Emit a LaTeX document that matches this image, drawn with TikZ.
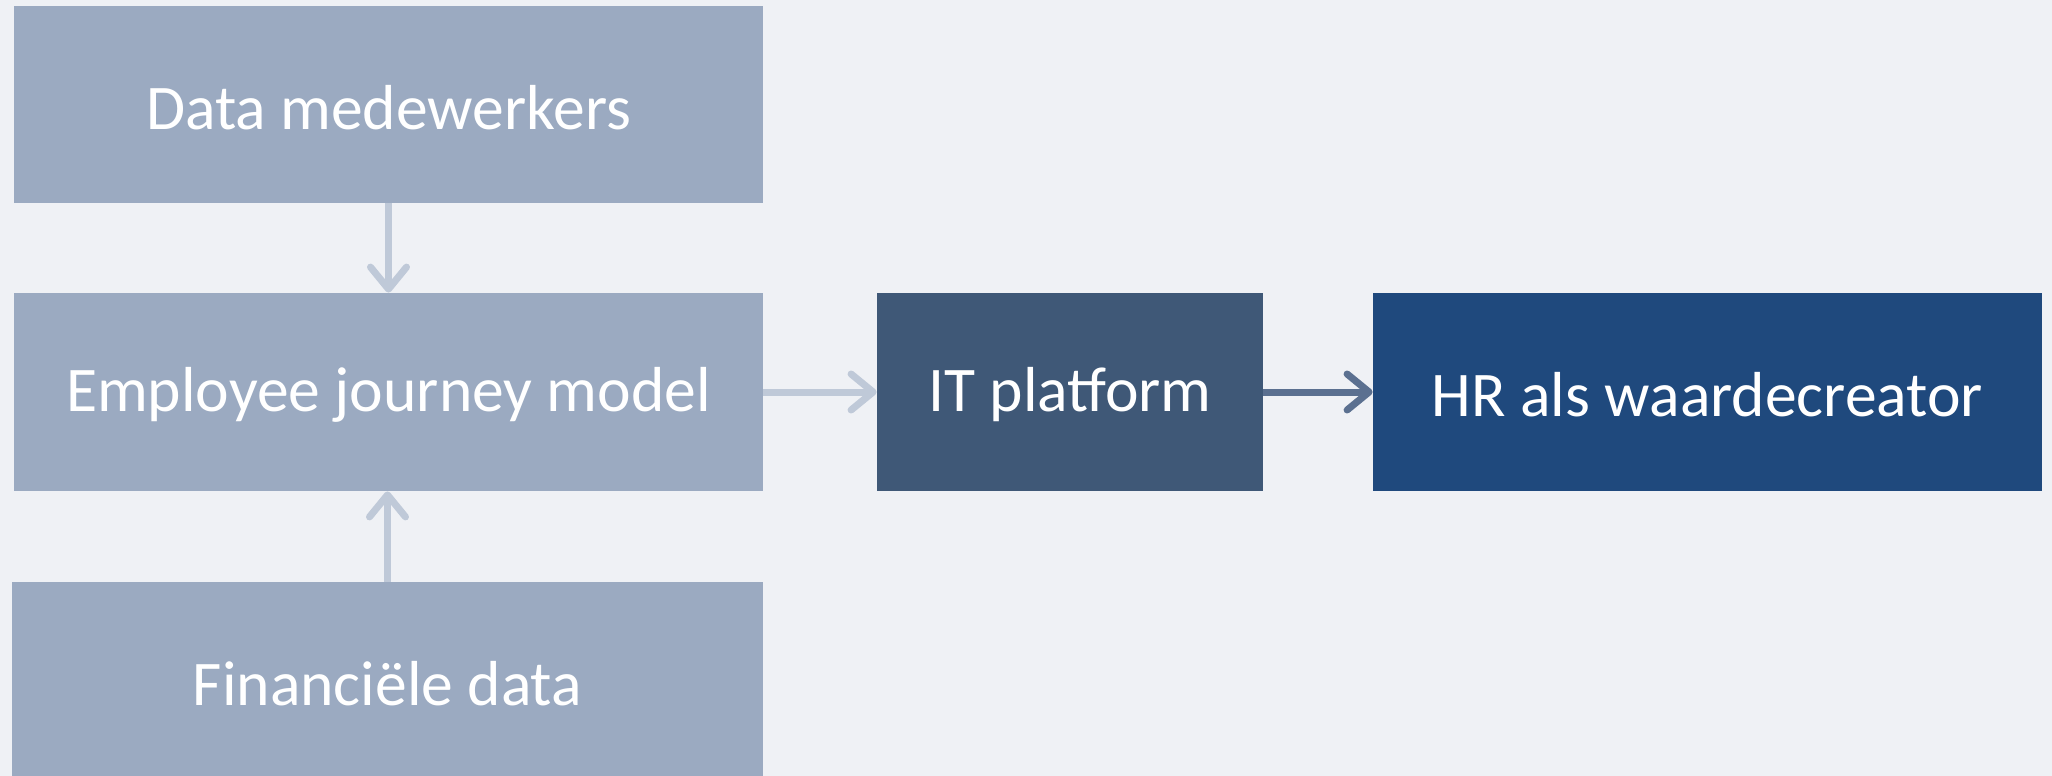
\documentclass[tikz,border=0pt]{standalone}
\usepackage{fontspec}
\setmainfont{Carlito}
\usetikzlibrary{arrows.meta}
\definecolor{bgc}{HTML}{EFF1F5}
\definecolor{lightbox}{HTML}{9BAAC1}
\definecolor{itbox}{HTML}{3F5877}
\definecolor{hrbox}{HTML}{1F497D}
\definecolor{lightarrow}{HTML}{BFC9D8}
\definecolor{darkarrow}{HTML}{5B7090}
\newcommand{\boxtext}[1]{\raisebox{-1.5pt}[\height][\depth]{#1}}
\begin{document}
\begin{tikzpicture}[x=0.5pt,y=-0.5pt,
  box/.style={rectangle, inner sep=0pt, text=white, font=\fontsize{31.8pt}{38pt}\selectfont},
  conn/.style={line width=3.5pt, -{Straight Barb[length=11pt,width=18pt,round]}},
]
\fill[bgc] (0,0) rectangle (2052,776);
\useasboundingbox (0,0) rectangle (2052,776);
\node[box, fill=lightbox, minimum width=374.5pt, minimum height=98.5pt] (dm) at (388.5,104.5) {\boxtext{Data medewerkers}};
\node[box, fill=lightbox, minimum width=374.5pt, minimum height=99pt] (ej) at (388.5,392) {\boxtext{Employee journey model}};
\node[box, fill=lightbox, minimum width=375.5pt, minimum height=98.5pt] (fd) at (387.5,680.5) {\boxtext{Financiële data}};
\node[box, fill=itbox, minimum width=193pt, minimum height=99pt] (it) at (1070,392) {\boxtext{IT platform}};
\node[box, fill=hrbox, minimum width=334.5pt, minimum height=99pt] (hr) at (1707.5,392) {\boxtext{HR als waardecreator}};
\draw[conn, lightarrow] (dm.south) -- (ej.north);
\draw[conn, lightarrow] (fd.north) -- (fd.north |- ej.south);
\draw[conn, lightarrow] (ej.east) -- (it.west);
\draw[conn, darkarrow] (it.east) -- (hr.west);
\end{tikzpicture}
\end{document}
